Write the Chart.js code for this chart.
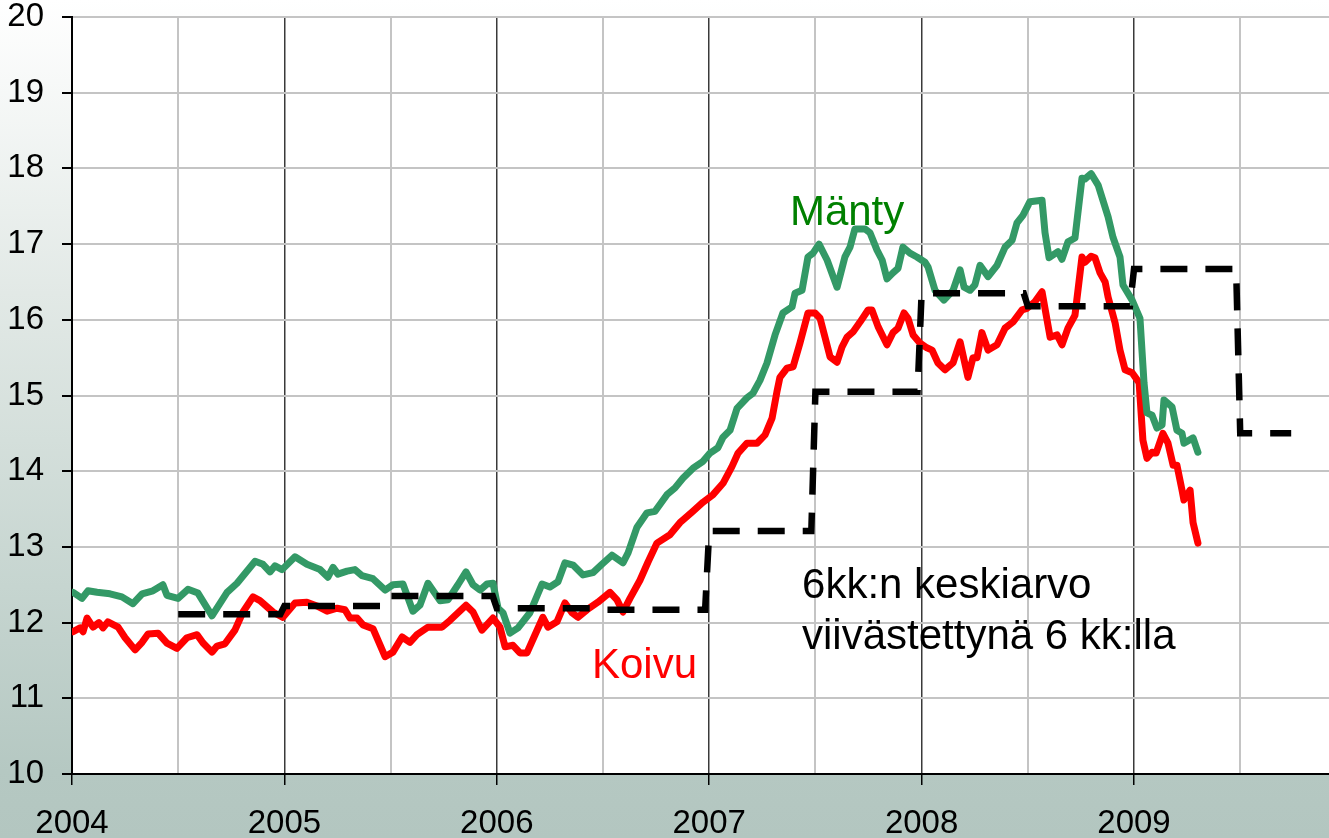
<!DOCTYPE html>
<html>
<head>
<meta charset="utf-8">
<script src="https://cdn.jsdelivr.net/npm/chart.js@4/dist/chart.umd.min.js"></script>
<style>
html, body { margin: 0; padding: 0; }
body {
    width: 1329px; height: 838px; overflow: hidden;
    background: linear-gradient(to bottom, #ffffff 0%, #e2e9e6 35%, #c6d5d0 70%, #b5c8c2 92%, #b3c6c0 100%);
}
</style>
</head>
<body>
<canvas id="chart" width="1329" height="838"></canvas>
<script>
const FONT = '"Liberation Sans", Arial, sans-serif';

// decimal years + prices, weekly series
const mantyT = [2004.005, 2004.047, 2004.075, 2004.118, 2004.179, 2004.235, 2004.287, 2004.330, 2004.381, 2004.428,
    2004.447, 2004.499, 2004.546, 2004.593, 2004.659, 2004.730, 2004.777, 2004.862, 2004.899, 2004.932,
    2004.956, 2004.989, 2005.050, 2005.106, 2005.168, 2005.205, 2005.229, 2005.252, 2005.295, 2005.332,
    2005.365, 2005.417, 2005.474, 2005.511, 2005.558, 2005.605, 2005.638, 2005.676, 2005.733, 2005.770,
    2005.817, 2005.855, 2005.888, 2005.921, 2005.954, 2005.982, 2006.006, 2006.029, 2006.062, 2006.100,
    2006.156, 2006.213, 2006.250, 2006.288, 2006.321, 2006.359, 2006.406, 2006.453, 2006.495, 2006.542,
    2006.594, 2006.618, 2006.660, 2006.707, 2006.745, 2006.801, 2006.839, 2006.877, 2006.924, 2006.971,
    2007.004, 2007.041, 2007.065, 2007.098, 2007.131, 2007.178, 2007.206, 2007.239, 2007.272, 2007.310,
    2007.347, 2007.390, 2007.404, 2007.437, 2007.465, 2007.489, 2007.517, 2007.555, 2007.602, 2007.639,
    2007.663, 2007.686, 2007.734, 2007.757, 2007.790, 2007.814, 2007.837, 2007.865, 2007.889, 2007.912,
    2007.945, 2007.978, 2008.016, 2008.030, 2008.063, 2008.105, 2008.148, 2008.181, 2008.200, 2008.228,
    2008.251, 2008.275, 2008.313, 2008.355, 2008.393, 2008.426, 2008.449, 2008.477, 2008.510, 2008.567,
    2008.581, 2008.600, 2008.642, 2008.661, 2008.689, 2008.722, 2008.755, 2008.769, 2008.798, 2008.831,
    2008.878, 2008.901, 2008.934, 2008.948, 2008.991, 2009.028, 2009.047, 2009.061, 2009.085, 2009.108,
    2009.132, 2009.141, 2009.179, 2009.202, 2009.226, 2009.235, 2009.278, 2009.301];
const mantyV = [12.40, 12.32, 12.42, 12.40, 12.38, 12.34, 12.25, 12.38, 12.42, 12.50,
    12.36, 12.32, 12.44, 12.39, 12.09, 12.40, 12.52, 12.81, 12.77, 12.67,
    12.75, 12.70, 12.87, 12.77, 12.70, 12.60, 12.73, 12.64, 12.68, 12.70,
    12.62, 12.58, 12.43, 12.50, 12.51, 12.15, 12.23, 12.52, 12.29, 12.30,
    12.50, 12.67, 12.50, 12.43, 12.51, 12.52, 12.19, 12.13, 11.86, 11.93,
    12.13, 12.51, 12.47, 12.54, 12.79, 12.76, 12.63, 12.66, 12.77, 12.89,
    12.79, 12.92, 13.26, 13.45, 13.47, 13.69, 13.78, 13.91, 14.04, 14.13,
    14.24, 14.31, 14.45, 14.54, 14.83, 14.97, 15.03, 15.20, 15.43, 15.80,
    16.09, 16.17, 16.35, 16.39, 16.83, 16.88, 17.00, 16.79, 16.43, 16.83,
    16.96, 17.20, 17.20, 17.15, 16.92, 16.79, 16.54, 16.62, 16.68, 16.96,
    16.88, 16.83, 16.76, 16.70, 16.39, 16.26, 16.39, 16.66, 16.43, 16.39,
    16.46, 16.72, 16.57, 16.72, 16.96, 17.05, 17.28, 17.38, 17.56, 17.58,
    17.15, 16.82, 16.90, 16.80, 17.03, 17.08, 17.87, 17.86, 17.93, 17.78,
    17.36, 17.09, 16.83, 16.46, 16.26, 16.02, 15.17, 14.77, 14.74, 14.57,
    14.61, 14.94, 14.85, 14.54, 14.50, 14.37, 14.44, 14.25];

const koivuT = [2004.005, 2004.038, 2004.052, 2004.071, 2004.099, 2004.127, 2004.146, 2004.169, 2004.217, 2004.250,
    2004.297, 2004.330, 2004.358, 2004.405, 2004.447, 2004.494, 2004.541, 2004.589, 2004.617, 2004.659,
    2004.683, 2004.720, 2004.767, 2004.805, 2004.852, 2004.885, 2004.946, 2004.993, 2005.050, 2005.106,
    2005.153, 2005.201, 2005.248, 2005.285, 2005.309, 2005.342, 2005.370, 2005.417, 2005.474, 2005.511,
    2005.554, 2005.591, 2005.624, 2005.676, 2005.742, 2005.780, 2005.855, 2005.888, 2005.930, 2005.982,
    2006.015, 2006.039, 2006.076, 2006.109, 2006.142, 2006.180, 2006.217, 2006.241, 2006.283, 2006.321,
    2006.354, 2006.382, 2006.425, 2006.476, 2006.533, 2006.566, 2006.594, 2006.627, 2006.674, 2006.712,
    2006.754, 2006.815, 2006.862, 2006.919, 2006.971, 2007.018, 2007.065, 2007.107, 2007.136, 2007.178,
    2007.225, 2007.263, 2007.296, 2007.319, 2007.333, 2007.366, 2007.395, 2007.427, 2007.465, 2007.498,
    2007.522, 2007.545, 2007.569, 2007.602, 2007.625, 2007.649, 2007.677, 2007.710, 2007.748, 2007.766,
    2007.795, 2007.837, 2007.865, 2007.889, 2007.917, 2007.936, 2007.960, 2007.993, 2008.025, 2008.049,
    2008.077, 2008.110, 2008.148, 2008.181, 2008.218, 2008.242, 2008.261, 2008.284, 2008.313, 2008.355,
    2008.393, 2008.430, 2008.473, 2008.496, 2008.534, 2008.567, 2008.605, 2008.638, 2008.661, 2008.689,
    2008.722, 2008.755, 2008.769, 2008.798, 2008.816, 2008.840, 2008.864, 2008.878, 2008.911, 2008.934,
    2008.958, 2008.991, 2009.024, 2009.042, 2009.061, 2009.085, 2009.104, 2009.136, 2009.160, 2009.184,
    2009.202, 2009.226, 2009.235, 2009.264, 2009.278, 2009.301];
const koivuV = [11.88, 11.93, 11.88, 12.06, 11.94, 12.00, 11.93, 12.01, 11.94, 11.80,
    11.64, 11.74, 11.85, 11.86, 11.73, 11.66, 11.80, 11.84, 11.73, 11.61,
    11.69, 11.72, 11.90, 12.14, 12.34, 12.29, 12.14, 12.07, 12.26, 12.27,
    12.22, 12.15, 12.19, 12.17, 12.06, 12.06, 11.97, 11.92, 11.55, 11.61,
    11.81, 11.74, 11.84, 11.94, 11.94, 12.03, 12.23, 12.14, 11.90, 12.06,
    11.94, 11.68, 11.70, 11.60, 11.60, 11.84, 12.07, 11.94, 12.01, 12.26,
    12.13, 12.07, 12.17, 12.27, 12.40, 12.30, 12.14, 12.32, 12.56, 12.80,
    13.05, 13.16, 13.32, 13.46, 13.59, 13.69, 13.84, 14.06, 14.24, 14.37,
    14.37, 14.48, 14.70, 15.05, 15.24, 15.36, 15.38, 15.69, 16.09, 16.09,
    16.02, 15.77, 15.51, 15.44, 15.64, 15.77, 15.84, 15.97, 16.13, 16.13,
    15.91, 15.67, 15.83, 15.89, 16.09, 16.02, 15.80, 15.69, 15.63, 15.60,
    15.43, 15.34, 15.43, 15.71, 15.24, 15.50, 15.50, 15.83, 15.60, 15.67,
    15.89, 15.97, 16.13, 16.15, 16.24, 16.37, 15.77, 15.80, 15.67, 15.89,
    16.06, 16.83, 16.76, 16.84, 16.82, 16.62, 16.50, 16.30, 15.96, 15.60,
    15.34, 15.30, 15.17, 14.41, 14.17, 14.25, 14.24, 14.50, 14.37, 14.08,
    14.08, 13.75, 13.62, 13.75, 13.32, 13.05];

// 6kk average, lagged by 6 months: half-year steps
const avgStart = [2004.5, 2005.0, 2005.5, 2006.0, 2006.5, 2007.0, 2007.5, 2008.0, 2008.5, 2009.0, 2009.5];
const avgValue = [12.11, 12.22, 12.35, 12.19, 12.17, 13.21, 15.05, 16.35, 16.18, 16.67, 14.50];
const avgLastEnd = 2009.74;

const gridYears = [2004, 2004.5, 2005, 2005.5, 2006, 2006.5, 2007, 2007.5, 2008, 2008.5, 2009, 2009.5];

const WEEK = 1 / 52;
const avgPoints = [];
avgStart.forEach((s, i) => {
    const end = i < avgStart.length - 1 ? avgStart[i + 1] - WEEK : avgLastEnd;
    avgPoints.push({ x: s, y: avgValue[i] }, { x: end, y: avgValue[i] });
});

const textLabels = [
    { lines: ['Mänty'], x: 2007.38, y: 17.25, color: '#008000' },
    { lines: ['Koivu'], x: 2006.448, y: 11.27, color: '#ff0000' },
    { lines: ['6kk:n keskiarvo', 'viivästettynä 6 kk:lla'], x: 2007.437, y: 12.33, color: '#000000' },
];

const plotBg = {
    id: 'plotBg',
    beforeDraw(chart) {
        const { ctx, chartArea: a } = chart;
        ctx.save();
        ctx.fillStyle = '#ffffff';
        ctx.fillRect(a.left, a.top, a.right - a.left, a.bottom - a.top);
        ctx.restore();
    },
};

const chartText = {
    id: 'chartText',
    afterDatasetsDraw(chart) {
        const { ctx, scales } = chart;
        ctx.save();
        ctx.font = '42px ' + FONT;
        ctx.textAlign = 'left';
        ctx.textBaseline = 'alphabetic';
        textLabels.forEach(l => {
            const px = scales.x.getPixelForValue(l.x);
            const py = scales.y.getPixelForValue(l.y);
            ctx.fillStyle = l.color;
            l.lines.forEach((t, i) => ctx.fillText(t, px, py + i * 51));
        });
        ctx.restore();
    },
};

new Chart(document.getElementById('chart'), {
    type: 'line',
    data: {
        datasets: [
            {
                label: '6kk:n keskiarvo',
                data: avgPoints,
                borderColor: '#000000',
                borderWidth: 6.5,
                borderDash: [27, 18],
                borderCapStyle: 'butt',
                pointRadius: 0,
                tension: 0,
            },
            {
                label: 'Mänty',
                data: mantyT.map((t, i) => ({ x: t, y: mantyV[i] })),
                borderColor: '#339966',
                borderWidth: 7,
                borderJoinStyle: 'round',
                borderCapStyle: 'round',
                pointRadius: 0,
                tension: 0,
            },
            {
                label: 'Koivu',
                data: koivuT.map((t, i) => ({ x: t, y: koivuV[i] })),
                borderColor: '#ff0000',
                borderWidth: 7,
                borderJoinStyle: 'round',
                borderCapStyle: 'round',
                pointRadius: 0,
                tension: 0,
            },
        ],
    },
    options: {
        responsive: false,
        animation: false,
        layout: { padding: 0 },
        plugins: { legend: { display: false }, tooltip: { enabled: false } },
        scales: {
            x: {
                type: 'linear',
                min: 2004,
                max: 2009.918,
                afterBuildTicks: s => { s.ticks = gridYears.map(v => ({ value: v })); },
                afterFit: s => { s.height = 64; s.paddingLeft = 0; s.paddingRight = 0; },
                grid: {
                    color: c => Number.isInteger(c.tick.value) ? '#3a3a3a' : '#c4c4c4',
                    lineWidth: c => Number.isInteger(c.tick.value) ? 1.5 : 2,
                    tickColor: c => Number.isInteger(c.tick.value) ? '#000000' : 'rgba(0,0,0,0)',
                    tickLength: 11,
                },
                border: { color: '#000000', width: 2 },
                ticks: {
                    autoSkip: false,
                    maxRotation: 0,
                    padding: 19,
                    color: '#000000',
                    font: { family: FONT, size: 33 },
                    callback: v => Number.isInteger(v) ? String(v) : '',
                },
            },
            y: {
                min: 10,
                max: 20,
                afterFit: s => { s.width = 72; s.paddingTop = 17; s.paddingBottom = 0; },
                grid: { color: '#c4c4c4', lineWidth: 2, tickColor: '#000000', tickLength: 10 },
                border: { color: '#000000', width: 2 },
                ticks: {
                    stepSize: 1,
                    padding: 18,
                    color: '#000000',
                    font: { family: FONT, size: 33 },
                },
            },
        },
    },
    plugins: [plotBg, chartText],
});
</script>
</body>
</html>
